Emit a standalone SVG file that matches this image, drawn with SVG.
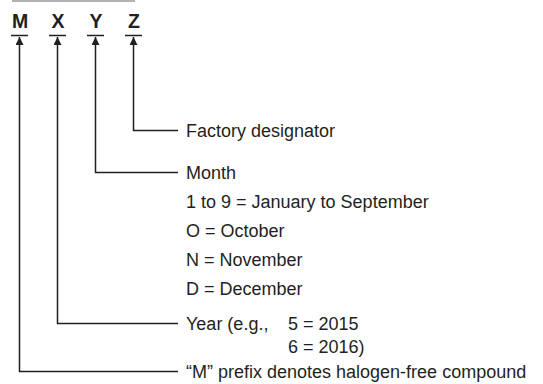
<svg xmlns="http://www.w3.org/2000/svg" width="543" height="384" viewBox="0 0 543 384">
<defs>
<style>
.lbl{font-family:"Liberation Sans",Arial,sans-serif;font-size:18px;fill:#231f20}
.code{font-family:"Liberation Sans",Arial,sans-serif;font-size:19.5px;font-weight:bold;fill:#231f20;text-anchor:middle}
.ln{fill:none;stroke:#231f20;stroke-width:1.5}
.ul{stroke:#231f20;stroke-width:1.5}
</style>
<marker id="ah" viewBox="0 0 10 10" refX="10" refY="5" markerWidth="10" markerHeight="8" markerUnits="userSpaceOnUse" orient="auto">
<path d="M0,0 L10,5 L0,10 Z" fill="#231f20"/>
</marker>
</defs>
<rect width="543" height="384" fill="#fff"/>
<line x1="12" y1="1" x2="135" y2="1" stroke="#9a9a9a" stroke-width="1.5"/>
<g id="node-M"><text class="code" x="20" y="28">M</text><line class="ul" x1="11" y1="35.5" x2="28" y2="35.5"/></g>
<g id="node-X"><text class="code" x="58" y="28">X</text><line class="ul" x1="49" y1="35.5" x2="66" y2="35.5"/></g>
<g id="node-Y"><text class="code" x="96" y="28">Y</text><line class="ul" x1="87" y1="35.5" x2="104" y2="35.5"/></g>
<g id="node-Z"><text class="code" x="134" y="28">Z</text><line class="ul" x1="125" y1="35.5" x2="142" y2="35.5"/></g>
<g id="connectors">
<path class="ln" d="M178,130.5 H133.5 V37" marker-end="url(#ah)"/>
<path class="ln" d="M178,172.5 H95.5 V37" marker-end="url(#ah)"/>
<path class="ln" d="M178,323.5 H57.5 V37" marker-end="url(#ah)"/>
<path class="ln" d="M178,371.5 H19.5 V37" marker-end="url(#ah)"/>
</g>
<g id="label-factory"><text class="lbl" x="186" y="137">Factory designator</text></g>
<g id="label-month">
<text class="lbl" x="186" y="179">Month</text>
<text class="lbl" x="186" y="208">1 to 9 = January to September</text>
<text class="lbl" x="186" y="237">O = October</text>
<text class="lbl" x="186" y="266">N = November</text>
<text class="lbl" x="186" y="295">D = December</text>
</g>
<g id="label-year">
<text class="lbl" x="186" y="330">Year (e.g., <tspan x="288">5 = 2015</tspan></text>
<text class="lbl" x="288" y="353">6 = 2016)</text>
</g>
<g id="label-prefix"><text class="lbl" x="186" y="378">“M” prefix denotes halogen-free compound</text></g>
</svg>
